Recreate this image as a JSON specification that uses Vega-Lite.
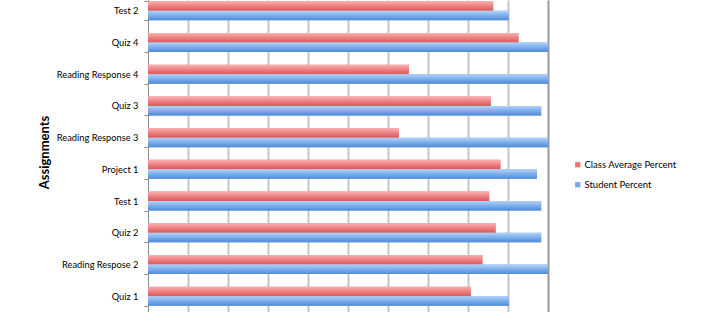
{
  "$schema": "https://vega.github.io/schema/vega-lite/v6.json",
  "width": 400,
  "height": 312,
  "autosize": {"type": "none"},
  "padding": {"left": 148, "right": 179, "top": 0, "bottom": 0},
  "background": "white",
  "config": {"view": {"stroke": null}},
  "data": {"values": [
    {"assignment": "Test 2", "series": "Class Average Percent", "value": 86.3},
    {"assignment": "Test 2", "series": "Student Percent", "value": 90.2},
    {"assignment": "Quiz 4", "series": "Class Average Percent", "value": 92.6},
    {"assignment": "Quiz 4", "series": "Student Percent", "value": 100},
    {"assignment": "Reading Response 4", "series": "Class Average Percent", "value": 65.2},
    {"assignment": "Reading Response 4", "series": "Student Percent", "value": 100},
    {"assignment": "Quiz 3", "series": "Class Average Percent", "value": 85.7},
    {"assignment": "Quiz 3", "series": "Student Percent", "value": 98.3},
    {"assignment": "Reading Response 3", "series": "Class Average Percent", "value": 62.7},
    {"assignment": "Reading Response 3", "series": "Student Percent", "value": 100},
    {"assignment": "Project 1", "series": "Class Average Percent", "value": 88.1},
    {"assignment": "Project 1", "series": "Student Percent", "value": 97.2},
    {"assignment": "Test 1", "series": "Class Average Percent", "value": 85.3},
    {"assignment": "Test 1", "series": "Student Percent", "value": 98.3},
    {"assignment": "Quiz 2", "series": "Class Average Percent", "value": 86.9},
    {"assignment": "Quiz 2", "series": "Student Percent", "value": 98.3},
    {"assignment": "Reading Respose 2", "series": "Class Average Percent", "value": 83.6},
    {"assignment": "Reading Respose 2", "series": "Student Percent", "value": 100},
    {"assignment": "Quiz 1", "series": "Class Average Percent", "value": 80.7},
    {"assignment": "Quiz 1", "series": "Student Percent", "value": 90.2}
  ]},
  "encoding": {
    "y": {
      "field": "assignment",
      "type": "nominal",
      "sort": ["Test 2", "Quiz 4", "Reading Response 4", "Quiz 3", "Reading Response 3", "Project 1", "Test 1", "Quiz 2", "Reading Respose 2", "Quiz 1"],
      "scale": {"range": [-5, 312], "paddingInner": 0.4, "paddingOuter": 0.2},
      "axis": {
        "title": "Assignments",
        "titleFont": "Lato",
        "titleFontSize": 13,
        "titleFontWeight": "bold",
        "titleColor": "#000000",
        "titleX": -97,
        "titleY": 152,
        "labelFont": "Lato",
        "labelFontSize": 9.3,
        "labelColor": "#000000",
        "labelPadding": 6,
        "tickSize": 4,
        "tickColor": "#8c8c8c",
        "tickBand": "extent",
        "domainColor": "#8c8c8c",
        "grid": false
      }
    },
    "yOffset": {
      "field": "series",
      "type": "nominal",
      "scale": {"domain": ["Class Average Percent", "Student Percent"], "paddingInner": 0, "paddingOuter": 0}
    },
    "x": {
      "field": "value",
      "type": "quantitative",
      "scale": {"domain": [0, 100], "nice": false},
      "axis": {
        "title": null,
        "labels": false,
        "ticks": false,
        "domain": false,
        "values": [10, 20, 30, 40, 50, 60, 70, 80, 90, 100],
        "grid": true,
        "gridColor": {"condition": {"test": "datum.value == 100", "value": "#9a9a9a"}, "value": "#c6c6c6"},
        "gridWidth": 2
      }
    }
  },
  "layer": [
    {
      "mark": {"type": "bar"},
      "encoding": {
        "color": {
          "field": "series",
          "type": "nominal",
          "scale": {"domain": ["Class Average Percent", "Student Percent"], "range": ["#ee7677", "#74a8ea"]},
          "legend": {
            "title": null,
            "orient": "none",
            "legendX": 425,
            "legendY": 160,
            "symbolType": "square",
            "symbolSize": 28,
            "symbolStrokeWidth": 0,
            "labelFont": "Lato",
            "labelFontSize": 9.5,
            "labelColor": "#000000",
            "labelOffset": 2,
            "rowPadding": 9
          }
        }
      }
    },
    {
      "transform": [{"filter": "datum.series == 'Class Average Percent'"}],
      "mark": {
        "type": "bar",
        "fill": {
          "gradient": "linear", "x1": 0, "y1": 0, "x2": 0, "y2": 1,
          "stops": [
            {"offset": 0, "color": "#f9b3b2"},
            {"offset": 0.45, "color": "#ef8485"},
            {"offset": 1, "color": "#d9585a"}
          ]
        }
      }
    },
    {
      "transform": [{"filter": "datum.series == 'Student Percent'"}],
      "mark": {
        "type": "bar",
        "fill": {
          "gradient": "linear", "x1": 0, "y1": 0, "x2": 0, "y2": 1,
          "stops": [
            {"offset": 0, "color": "#b5d3f7"},
            {"offset": 0.45, "color": "#80b2ee"},
            {"offset": 1, "color": "#5289d6"}
          ]
        }
      }
    }
  ]
}
